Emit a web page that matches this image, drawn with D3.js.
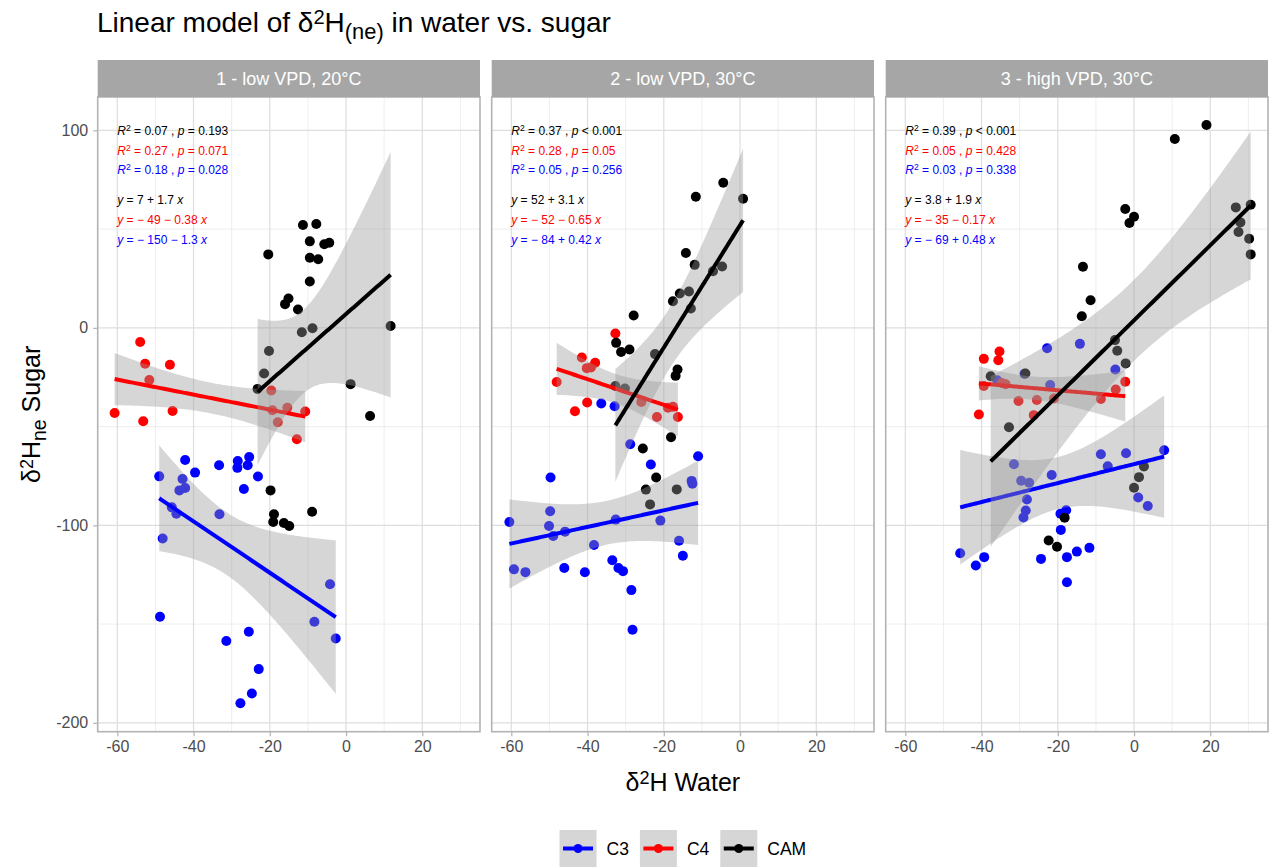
<!DOCTYPE html>
<html>
<head>
<meta charset="utf-8">
<script src="https://cdn.jsdelivr.net/npm/d3@7"></script>
<style>
  body { margin: 0; background: #fff; }
  svg { display: block; }
  text { font-family: "Liberation Sans", Arial, Helvetica, sans-serif; white-space: pre; }
</style>
</head>
<body>
<svg id="chart" width="1275" height="867"></svg>
<script>
// ---- data ------------------------------------------------------------
const facetLabels = ["1 - low VPD, 20°C", "2 - low VPD, 30°C", "3 - high VPD, 30°C"];
const groupNames = ["C3", "C4", "CAM"];
const labelOrder = ["CAM", "C4", "C3"];

// [δ²H water, δ²H(ne) sugar] per photosynthetic type and treatment
const c3LowVpd20 = [[-42.2,-66.9],[-49.0,-75.2],[-39.6,-73.3],[-33.3,-69.6],[-28.4,-67.4],[-25.4,-65.4],[-25.8,-69.6],[-28.5,-70.9],[-23.1,-75.3],[-26.8,-81.6],[-42.9,-76.5],[-42.2,-81.1],[-43.7,-82.3],[-45.7,-90.9],[-44.5,-94.1],[-33.2,-94.4],[-48.1,-106.7],[-4.2,-129.8],[-8.3,-148.8],[-2.7,-157.3],[-48.8,-146.3],[-25.5,-153.9],[-31.4,-158.6],[-22.9,-172.8],[-24.7,-185.2],[-27.7,-190.1]];
const c4LowVpd20 = [[-54.0,-7.2],[-52.7,-18.2],[-46.2,-18.7],[-51.6,-26.4],[-60.7,-43.1],[-53.2,-47.3],[-45.5,-42.1],[-19.6,-31.7],[-19.3,-41.7],[-15.4,-40.5],[-10.7,-42.4],[-17.9,-47.8],[-12.9,-56.4]];
const camLowVpd20 = [[-11.3,52.1],[-7.8,52.6],[-20.4,37.2],[-9.5,43.8],[-5.7,42.3],[-4.4,43.1],[-9.5,35.5],[-7.3,34.7],[-9.5,23.5],[-15.1,14.9],[-16.0,12.0],[-12.6,9.3],[-8.8,-0.2],[-11.6,-2.2],[11.7,0.9],[-20.2,-11.7],[1.2,-28.5],[-21.5,-23.1],[-23.2,-30.9],[6.3,-44.6],[-19.8,-82.3],[-18.9,-94.4],[-19.1,-98.3],[-16.3,-98.8],[-14.9,-100.3],[-8.9,-93.1]];

const c3LowVpd30 = [[-36.4,-38.3],[-32.9,-39.7],[-28.8,-58.9],[-23.4,-69.2],[-11.0,-65.0],[-12.7,-77.5],[-12.5,-78.9],[-49.7,-75.8],[-49.8,-92.9],[-50.1,-100.3],[-60.5,-98.3],[-49.0,-105.4],[-45.9,-103.2],[-32.6,-97.1],[-20.9,-97.6],[-38.3,-110.0],[-16.0,-107.8],[-15.0,-115.4],[-59.3,-122.3],[-56.3,-123.7],[-46.1,-121.6],[-40.7,-123.8],[-33.5,-117.7],[-31.9,-121.6],[-30.7,-123.2],[-28.5,-132.8],[-28.2,-152.9]];
const c4LowVpd30 = [[-32.7,-2.9],[-41.5,-15.0],[-38.0,-17.7],[-40.2,-20.4],[-39.1,-20.1],[-48.1,-27.4],[-40.1,-37.8],[-43.3,-42.2],[-25.9,-37.5],[-21.8,-45.1],[-18.9,-40.5],[-17.6,-40.0],[-16.3,-45.1]];
const camLowVpd30 = [[-4.4,73.5],[-11.6,66.4],[0.8,65.4],[-14.2,37.9],[-11.9,31.9],[-7.1,28.7],[-4.7,31.1],[-15.8,17.4],[-13.4,18.4],[-17.6,13.5],[-12.9,9.8],[-27.9,6.3],[-32.5,-7.6],[-31.2,-12.2],[-29.0,-11.0],[-22.3,-13.3],[-16.4,-21.1],[-16.9,-24.3],[-32.7,-29.4],[-30.2,-30.7],[-18.1,-55.4],[-25.5,-61.1],[-22.0,-75.8],[-24.7,-81.9],[-16.6,-81.8],[-23.6,-89.4]];

const c3HighVpd30 = [[-22.8,-10.3],[-14.2,-8.1],[-4.9,-21.1],[-28.7,-23.3],[-35.9,-26.5],[-22.0,-28.9],[-8.7,-64.0],[-2.1,-63.5],[7.9,-62.0],[-6.9,-70.1],[-31.5,-69.1],[-21.6,-74.5],[-29.6,-77.4],[-27.5,-78.4],[-28.1,-86.9],[1.1,-85.9],[3.6,-90.2],[-28.4,-92.5],[-29.0,-96.0],[-17.8,-92.4],[-19.3,-94.1],[-19.2,-102.3],[-45.6,-114.1],[-41.5,-120.3],[-39.3,-116.1],[-24.4,-117.0],[-17.6,-116.1],[-15.0,-113.3],[-11.7,-111.4],[-17.6,-128.8]];
const c4HighVpd30 = [[-39.4,-15.7],[-35.3,-12.0],[-35.6,-16.4],[-40.7,-43.9],[-39.4,-29.4],[-34.7,-27.9],[-33.7,-28.5],[-30.3,-37.0],[-25.5,-36.5],[-21.0,-35.8],[-26.3,-44.2],[-8.7,-36.0],[-4.8,-31.2],[-2.3,-27.3]];
const camHighVpd30 = [[19.0,102.7],[10.7,95.6],[-2.3,60.2],[0.0,56.3],[-1.2,53.1],[26.7,61.0],[30.6,62.3],[27.9,53.4],[27.4,48.5],[30.2,45.1],[30.6,37.2],[-13.4,30.9],[-11.4,14.0],[-13.7,5.9],[-5.0,-6.2],[-4.4,-11.6],[-2.2,-18.0],[-37.6,-24.5],[-28.5,-23.1],[-32.8,-50.3],[2.6,-70.2],[1.3,-75.6],[0.0,-81.0],[-18.2,-96.1],[-22.4,-107.7],[-20.2,-110.8]];

const xTickValues = [-60, -40, -20, 0, 20];
const xMinorValues = [-50, -30, -10, 10, 30];
const yTickValues = [-200, -100, 0, 100];
const yMinorValues = [-150, -50, 50];

// fitted model summaries per treatment
const r2Values = { CAM: ["0.07", "0.37", "0.39"], C4: ["0.27", "0.28", "0.05"], C3: ["0.18", "0.05", "0.03"] };
const pValues = { CAM: ["= 0.193", "< 0.001", "< 0.001"], C4: ["= 0.071", "= 0.05", "= 0.428"], C3: ["= 0.028", "= 0.256", "= 0.338"] };
const interceptValues = { CAM: [7, 52, 3.8], C4: [-49, -52, -35], C3: [-150, -84, -69] };
const slopeValues = { CAM: [1.7, 3.1, 1.9], C4: [-0.38, -0.65, -0.17], C3: [-1.3, 0.42, 0.48] };

const facetPoints = [
  { C3: c3LowVpd20, C4: c4LowVpd20, CAM: camLowVpd20 },
  { C3: c3LowVpd30, C4: c4LowVpd30, CAM: camLowVpd30 },
  { C3: c3HighVpd30, C4: c4HighVpd30, CAM: camHighVpd30 }
];

// ---- style & layout ----------------------------------------------------
const groupColor = { C3: "#0000ff", C4: "#ff0000", CAM: "#000000" };
const panelTop = 97, panelBottom = 731.7, panelW = 382.3, panelStep = 394, panelLeft0 = 97.7;
const stripTop = 60, stripH = 37;
const xDomain = [-65.14, 35.14], yDomain = [-204.5, 116.9];
const statRowY = [100, 90, 80], eqRowY = [65, 55, 45], labelX = -60;
const fs = { title: 28, strip: 18, tick: 16, axisTitle: 25, legend: 17.5, stat: 12 };

const svg = d3.select("#chart");
const y = d3.scaleLinear().domain(yDomain).range([panelBottom, panelTop]);

function rich(sel, parts) {
  parts.forEach(p => {
    const ts = sel.append("tspan").text(p.t);
    if (p.i) ts.attr("font-style", "italic");
    if (p.sup) ts.attr("baseline-shift", "40%").attr("font-size", "72%");
    if (p.sub) ts.attr("baseline-shift", "-30%").attr("font-size", "78%");
  });
  return sel;
}

// 97.5% quantile of Student's t (Cornish-Fisher expansion)
function tQuantile(df) {
  const z = 1.959964, z3 = z ** 3, z5 = z ** 5, z7 = z ** 7;
  return z + (z3 + z) / (4 * df) + (5 * z5 + 16 * z3 + 3 * z) / (96 * df * df)
           + (3 * z7 + 19 * z5 + 17 * z3 - 15 * z) / (384 * df ** 3);
}

// confidence band around the reported line a + b·x
function bandFor(pts, a, b) {
  const n = pts.length;
  const xs = pts.map(d => d[0]);
  const xbar = d3.mean(xs);
  const sxx = d3.sum(xs, v => (v - xbar) ** 2);
  const sse = d3.sum(pts, d => (d[1] - (a + b * d[0])) ** 2);
  const s = Math.sqrt(sse / (n - 2));
  const t = tQuantile(n - 2);
  const [lo, hi] = d3.extent(xs);
  return d3.range(80).map(i => {
    const xv = lo + (hi - lo) * i / 79;
    const fit = a + b * xv;
    const se = t * s * Math.sqrt(1 / n + (xv - xbar) ** 2 / sxx);
    return { x: xv, fit, lo: fit - se, hi: fit + se };
  });
}

function fmt(v) { return String(Math.abs(v)); }
function eqParts(a, b) {
  const aStr = a < 0 ? "\u2212 " + fmt(a) : fmt(a);
  const bStr = b < 0 ? " \u2212 " + fmt(b) : " + " + fmt(b);
  return [{ t: "y", i: true }, { t: " = " + aStr + bStr + " " }, { t: "x", i: true }];
}
const tickText = d => d < 0 ? "-" + Math.abs(d) : String(d);

// ---- title ------------------------------------------------------------
rich(svg.append("text").attr("x", 97).attr("y", 32).attr("font-size", fs.title).attr("fill", "#000"),
  [{ t: "Linear model of δ" }, { t: "2", sup: true }, { t: "H" }, { t: "(ne)", sub: true }, { t: " in water vs. sugar" }]);

// ---- panels -------------------------------------------------------------
facetLabels.forEach((label, i) => {
  const left = panelLeft0 + i * panelStep;
  const x = d3.scaleLinear().domain(xDomain).range([left, left + panelW]);
  const g = svg.append("g");

  g.append("rect").attr("x", left).attr("y", panelTop).attr("width", panelW)
    .attr("height", panelBottom - panelTop).attr("fill", "#fff");

  // grid
  g.selectAll(".vminor").data(xMinorValues).join("line")
    .attr("x1", d => x(d)).attr("x2", d => x(d)).attr("y1", panelTop).attr("y2", panelBottom)
    .attr("stroke", "#e6e6e6").attr("stroke-width", 0.7);
  g.selectAll(".hminor").data(yMinorValues).join("line")
    .attr("y1", d => y(d)).attr("y2", d => y(d)).attr("x1", left).attr("x2", left + panelW)
    .attr("stroke", "#e6e6e6").attr("stroke-width", 0.7);
  g.selectAll(".vmajor").data(xTickValues).join("line")
    .attr("x1", d => x(d)).attr("x2", d => x(d)).attr("y1", panelTop).attr("y2", panelBottom)
    .attr("stroke", "#dedede").attr("stroke-width", 1.2);
  g.selectAll(".hmajor").data(yTickValues).join("line")
    .attr("y1", d => y(d)).attr("y2", d => y(d)).attr("x1", left).attr("x2", left + panelW)
    .attr("stroke", "#dedede").attr("stroke-width", 1.2);

  const clipId = "clip" + i;
  svg.append("clipPath").attr("id", clipId).append("rect")
    .attr("x", left).attr("y", panelTop).attr("width", panelW).attr("height", panelBottom - panelTop);
  const plot = g.append("g").attr("clip-path", `url(#${clipId})`);

  // points
  groupNames.forEach(grp => {
    plot.append("g").selectAll("circle").data(facetPoints[i][grp]).join("circle")
      .attr("cx", d => x(d[0])).attr("cy", d => y(d[1])).attr("r", 5)
      .attr("fill", groupColor[grp]);
  });

  // fitted lines with confidence ribbons
  groupNames.forEach(grp => {
    const a = interceptValues[grp][i], b = slopeValues[grp][i];
    const band = bandFor(facetPoints[i][grp], a, b);
    plot.append("path").datum(band)
      .attr("d", d3.area().x(d => x(d.x)).y0(d => y(d.lo)).y1(d => y(d.hi)))
      .attr("fill", "#999999").attr("fill-opacity", 0.4);
    plot.append("path").datum(band)
      .attr("d", d3.line().x(d => x(d.x)).y(d => y(d.fit)))
      .attr("fill", "none").attr("stroke", groupColor[grp]).attr("stroke-width", 4);
  });

  // model statistics
  labelOrder.forEach((grp, k) => {
    rich(g.append("text").attr("x", x(labelX)).attr("y", y(statRowY[k])).attr("dy", "0.38em")
      .attr("font-size", fs.stat).attr("fill", groupColor[grp]),
      [{ t: "R", i: true }, { t: "2", sup: true }, { t: " = " + r2Values[grp][i] + " , " },
       { t: "p", i: true }, { t: " " + pValues[grp][i] }]);
    rich(g.append("text").attr("x", x(labelX)).attr("y", y(eqRowY[k])).attr("dy", "0.38em")
      .attr("font-size", fs.stat).attr("fill", groupColor[grp]),
      eqParts(interceptValues[grp][i], slopeValues[grp][i]));
  });

  // border
  g.append("rect").attr("x", left).attr("y", panelTop).attr("width", panelW)
    .attr("height", panelBottom - panelTop).attr("fill", "none")
    .attr("stroke", "#b3b3b3").attr("stroke-width", 1.6);

  // strip
  g.append("rect").attr("x", left).attr("y", stripTop).attr("width", panelW).attr("height", stripH)
    .attr("fill", "#a6a6a6");
  g.append("text").attr("x", left + panelW / 2).attr("y", stripTop + stripH / 2).attr("dy", "0.36em")
    .attr("text-anchor", "middle").attr("font-size", fs.strip).attr("fill", "#fff").text(label);

  // x axis
  const xa = g.append("g").attr("transform", `translate(0,${panelBottom})`)
    .call(d3.axisBottom(x).tickValues(xTickValues).tickSize(4.5).tickPadding(4.5));
  xa.select(".domain").remove();
  xa.selectAll(".tick line").attr("stroke", "#b3b3b3").attr("stroke-width", 1.2);
  xa.selectAll(".tick text").attr("fill", "#4d4d4d").attr("font-size", fs.tick)
    .attr("font-family", "Liberation Sans, Arial, sans-serif").text(tickText);

  if (i === 0) {
    const ya = g.append("g").attr("transform", `translate(${left},0)`)
      .call(d3.axisLeft(y).tickValues(yTickValues).tickSize(4.5).tickPadding(5));
    ya.select(".domain").remove();
    ya.selectAll(".tick line").attr("stroke", "#b3b3b3").attr("stroke-width", 1.2);
    ya.selectAll(".tick text").attr("fill", "#4d4d4d").attr("font-size", fs.tick)
      .attr("font-family", "Liberation Sans, Arial, sans-serif").text(tickText);
  }
});

// ---- axis titles --------------------------------------------------------
const plotCenterX = panelLeft0 + (2 * panelStep + panelW) / 2;
rich(svg.append("text").attr("x", plotCenterX).attr("y", 791).attr("text-anchor", "middle")
  .attr("font-size", fs.axisTitle).attr("fill", "#000"),
  [{ t: "δ" }, { t: "2", sup: true }, { t: "H Water" }]);

rich(svg.append("text").attr("transform", `translate(40,${(panelTop + panelBottom) / 2}) rotate(-90)`)
  .attr("text-anchor", "middle").attr("font-size", fs.axisTitle).attr("fill", "#000"),
  [{ t: "δ" }, { t: "2", sup: true }, { t: "H" }, { t: "ne", sub: true }, { t: " Sugar" }]);

// ---- legend -------------------------------------------------------------
const keySize = 37, keyTop = 830;
const legend = svg.append("g");
let cursor = 0;
groupNames.forEach(grp => {
  const it = legend.append("g").attr("transform", `translate(${cursor},0)`);
  it.append("rect").attr("x", 0).attr("y", keyTop).attr("width", keySize).attr("height", keySize)
    .attr("fill", "#999999").attr("fill-opacity", 0.4);
  it.append("line").attr("x1", 3.5).attr("x2", keySize - 3.5)
    .attr("y1", keyTop + keySize / 2).attr("y2", keyTop + keySize / 2)
    .attr("stroke", groupColor[grp]).attr("stroke-width", 4);
  it.append("circle").attr("cx", keySize / 2).attr("cy", keyTop + keySize / 2).attr("r", 4.5)
    .attr("fill", groupColor[grp]);
  const t = it.append("text").attr("x", keySize + 10).attr("y", keyTop + keySize / 2).attr("dy", "0.36em")
    .attr("font-size", fs.legend).attr("fill", "#000").text(grp);
  cursor += keySize + 10 + t.node().getComputedTextLength() + 11;
});
const legendW = cursor - 11;
legend.attr("transform", `translate(${plotCenterX - legendW / 2},0)`);
</script>
</body>
</html>
